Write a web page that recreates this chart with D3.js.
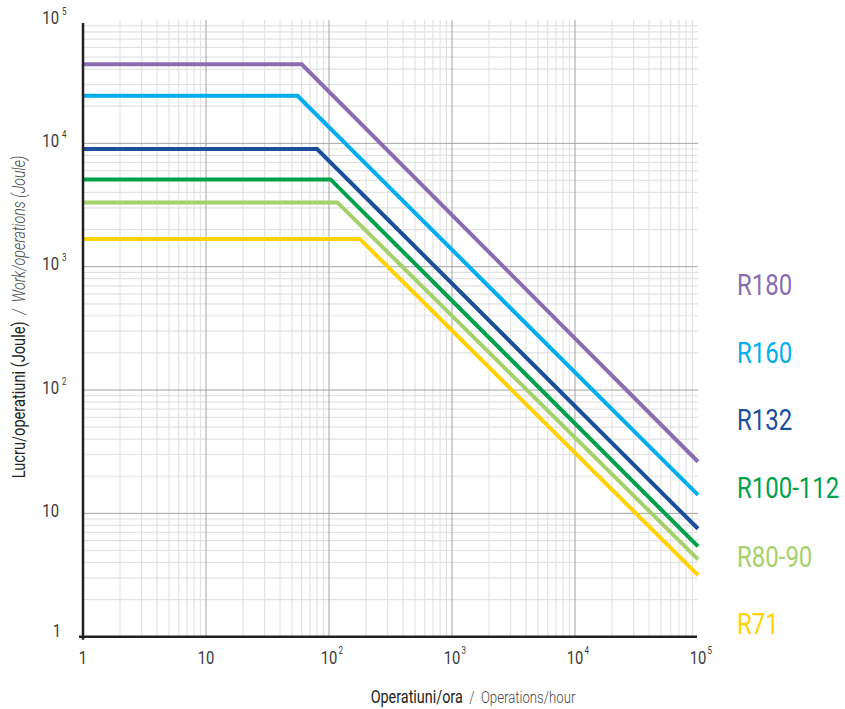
<!DOCTYPE html>
<html>
<head>
<meta charset="utf-8">
<script src="https://cdn.jsdelivr.net/npm/d3@7"></script>
<style>
  body { margin: 0; background: #fff; }
  svg { display: block; }
  text { font-family: "Roboto", "Liberation Sans", sans-serif; }
</style>
</head>
<body>
<svg id="chart" width="845" height="709"></svg>
<script>
// motor series, work per operation vs operations per hour
const seriesNames = ['R180', 'R160', 'R132', 'R100-112', 'R80-90', 'R71']
const seriesColors = ['#8a6db0', '#00aeef', '#1b4f9c', '#00a14b', '#a5d16b', '#ffd200']
const flatWork = [43700, 24300, 9000, 5100, 3320, 1680]   // Joule, left plateau
const kneeOps = [60, 55.5, 80, 103, 117, 178]               // ops/hour where it starts dropping
const endWork = [26.2, 14.1, 7.5, 5.4, 4.24, 3.16]          // Joule at 10^5 ops/hour

const xTicks = [1, 10, 100, 1000, 10000, 100000]
const yTicks = [1, 10, 100, 1000, 10000, 100000]
const tickBase = ['1', '10', '10', '10', '10', '10']
const tickSup = ['', '', '2', '3', '4', '5']

const svg = d3.select('#chart')
const SX = 0.8  // the original uses a condensed face, fake it by squeezing

function narrow(px, py, rot) {
    let tr = `translate(${px},${py})`
    if (rot) tr += ` rotate(${rot})`
    return svg.append('g').attr('transform', tr + ` scale(${SX},1)`).append('text')
}

const x = d3.scaleLog().domain([1, 1e5]).range([83, 698])
const y = d3.scaleLog().domain([1, 1e5]).range([636.7, 20])

// minor + major grid
const minor = []
for (let d = 1; d < 1e5; d *= 10) {
    for (let k = 2; k <= 9; k++) minor.push(d * k)
}
const majors = xTicks.slice(1, -1)

const grid = svg.append('g')
grid.selectAll('.vminor').data(minor).enter().append('line')
    .attr('x1', d => x(d)).attr('x2', d => x(d))
    .attr('y1', y(1e5)).attr('y2', y(1))
    .attr('stroke', '#dedede').attr('stroke-width', 1)
grid.selectAll('.hminor').data(minor).enter().append('line')
    .attr('y1', d => y(d)).attr('y2', d => y(d))
    .attr('x1', x(1)).attr('x2', x(1e5))
    .attr('stroke', '#e2e2e2').attr('stroke-width', 1.2)
grid.selectAll('.vmajor').data(majors).enter().append('line')
    .attr('x1', d => x(d)).attr('x2', d => x(d))
    .attr('y1', y(1e5)).attr('y2', y(1))
    .attr('stroke', '#a3a3a3').attr('stroke-width', 1)
grid.selectAll('.hmajor').data(majors).enter().append('line')
    .attr('y1', d => y(d)).attr('y2', d => y(d))
    .attr('x1', x(1)).attr('x2', x(1e5))
    .attr('stroke', '#a3a3a3').attr('stroke-width', 1)

// series lines
const line = d3.line().x(d => x(d[0])).y(d => y(d[1]))
seriesNames.forEach((name, i) => {
    const pts = [[1, flatWork[i]], [kneeOps[i], flatWork[i]], [1e5, endWork[i]]]
    svg.append('path')
        .datum(pts)
        .attr('d', line)
        .attr('fill', 'none')
        .attr('stroke', seriesColors[i])
        .attr('stroke-width', 4)
        .attr('stroke-linejoin', 'miter')
})

// axes
svg.append('line').attr('x1', x(1)).attr('x2', x(1))
    .attr('y1', 23).attr('y2', y(1) + 3)
    .attr('stroke', '#231f20').attr('stroke-width', 2.5)
svg.append('line').attr('x1', x(1) - 4).attr('x2', 697)
    .attr('y1', y(1)).attr('y2', y(1))
    .attr('stroke', '#231f20').attr('stroke-width', 2.5)

// x tick labels
xTicks.forEach((t, i) => {
    narrow(x(t), 663.5)
        .attr('text-anchor', 'middle')
        .attr('font-size', 18.5).attr('fill', '#3a3a3a')
        .text(tickBase[i])
    if (tickSup[i]) {
        narrow(x(t) + 9.5, 654)
            .attr('font-size', 10).attr('fill', '#3a3a3a')
            .text(tickSup[i])
    }
})

// y tick labels
yTicks.forEach((t, i) => {
    const base = t === 1 ? y(t) : y(t) + 3.5
    narrow(t === 1 ? 61 : 59, base)
        .attr('text-anchor', 'end')
        .attr('font-size', 18.5).attr('fill', '#3a3a3a')
        .text(tickBase[i])
    if (tickSup[i]) {
        narrow(62, base - 9)
            .attr('font-size', 10).attr('fill', '#3a3a3a')
            .text(tickSup[i])
    }
})

// axis titles
const xt = narrow(473, 703).attr('text-anchor', 'middle')
xt.append('tspan').attr('font-size', 18).attr('fill', '#231f20').text('Operatiuni/ora')
xt.append('tspan').attr('font-size', 16.5).attr('fill', '#4a4a4a').attr('font-weight', 300)
    .attr('xml:space', 'preserve').text('  /  Operations/hour')

const yt = narrow(25, 317, -90).attr('text-anchor', 'middle')
yt.append('tspan').attr('font-size', 18.3).attr('fill', '#231f20').text('Lucru/operatiuni (Joule)')
yt.append('tspan').attr('font-size', 17.8).attr('fill', '#4a4a4a').attr('font-style', 'italic')
    .attr('font-weight', 300).attr('xml:space', 'preserve').text('  /  Work/operations (Joule)')

// legend
const legendY = [295, 363, 430, 498, 567, 634]
seriesNames.forEach((name, i) => {
    narrow(737, legendY[i])
        .attr('font-size', 30)
        .attr('fill', seriesColors[i])
        .text(name)
})
</script>
</body>
</html>
